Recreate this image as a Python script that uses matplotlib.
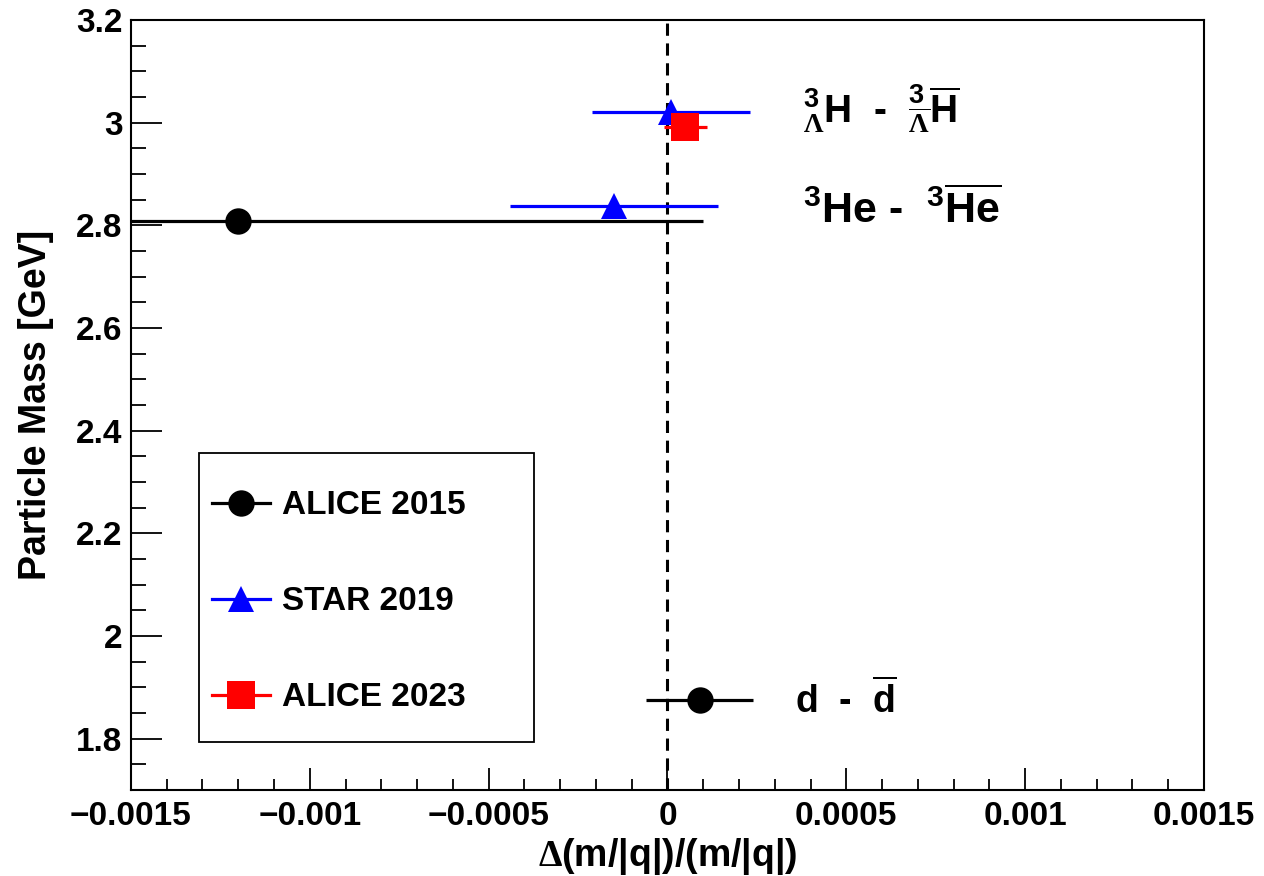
import matplotlib
matplotlib.use('Agg')
import matplotlib.pyplot as plt
from matplotlib.lines import Line2D
from matplotlib.patches import Rectangle
from matplotlib.ticker import FixedLocator, MultipleLocator, FuncFormatter

plt.rcParams['font.family'] = 'Liberation Sans'
plt.rcParams['font.weight'] = 'bold'
plt.rcParams['mathtext.fontset'] = 'custom'
plt.rcParams['mathtext.rm'] = 'Liberation Sans:bold'
plt.rcParams['mathtext.it'] = 'Liberation Sans:bold'
plt.rcParams['mathtext.bf'] = 'Liberation Sans:bold'
plt.rcParams['mathtext.sf'] = 'Liberation Serif'

# datos: diferencia relativa masa/carga (particula - antiparticula)
alice15_x = [0.00009, -0.0012]
alice15_xerr = [0.00015, 0.0013]
alice15_mass = [1.8756, 2.8084]

star19_x = [-0.00015, 0.00001]
star19_xerr = [0.00029, 0.00022]
star19_mass = [2.838, 3.021]

alice23_x = [0.00005]
alice23_xerr = [0.00006]
alice23_mass = [2.991]

labels = ['ALICE 2015', 'STAR 2019', 'ALICE 2023']
x_ticks = [-0.0015, -0.001, -0.0005, 0, 0.0005, 0.001, 0.0015]
y_ticks = [1.8, 2.0, 2.2, 2.4, 2.6, 2.8, 3.0, 3.2]

fig = plt.figure(figsize=(12.64, 8.76), dpi=100)
ax = fig.add_axes([0.1036, 0.0982, 0.8489, 0.879])

ax.axvline(0, color='black', lw=2.2, linestyle=(0, (4, 2.5)), zorder=1)

ax.errorbar(alice15_x, alice15_mass, xerr=alice15_xerr, fmt='o', color='black',
            ms=19, mew=0, elinewidth=2.3, capsize=0, zorder=3)
ax.errorbar(star19_x, star19_mass, xerr=star19_xerr, fmt='^', color='blue',
            ms=19, mew=0, elinewidth=2.3, capsize=0, zorder=4)
ax.errorbar(alice23_x, alice23_mass, xerr=alice23_xerr, fmt='s', color='red',
            ms=19.5, mew=0, elinewidth=2.3, capsize=0, zorder=5)

ax.set_xlim(-0.0015, 0.0015)
ax.set_ylim(1.7, 3.2)

ax.xaxis.set_major_locator(FixedLocator(x_ticks))
ax.xaxis.set_minor_locator(MultipleLocator(0.0001))
ax.yaxis.set_major_locator(FixedLocator(y_ticks))
ax.yaxis.set_minor_locator(MultipleLocator(0.05))
ax.xaxis.set_major_formatter(FuncFormatter(lambda v, p: ('%g' % round(v, 6)).replace('-', '\u2212')))
ax.yaxis.set_major_formatter(FuncFormatter(lambda v, p: '%g' % round(v, 3)))

ax.tick_params(axis='both', which='both', direction='in', top=False, right=False, width=1.3, labelsize=24)
ax.tick_params(axis='x', which='major', length=15.6, pad=8)
ax.tick_params(axis='x', which='minor', length=7.7)
ax.tick_params(axis='y', which='major', length=22, pad=6)
ax.tick_params(axis='y', which='minor', length=11)
for s in ax.spines.values():
    s.set_linewidth(1.5)

ax.set_xlabel(r'$\mathsf{Δ}$(m/|q|)/(m/|q|)', fontsize=27, fontweight='bold', labelpad=3)
ax.set_ylabel('Particle Mass [GeV]', fontsize=27, fontweight='bold', labelpad=16)

# etiquetas de las particulas
ax.text(0.626, 0.8675, r'$^{3}_{\mathsf{\Lambda}}$H  -  $^{3}_{\overline{\mathsf{\Lambda}}}\overline{\mathrm{H}}$',
        transform=ax.transAxes, fontsize=28, ha='left', va='baseline')
ax.text(0.626, 0.7364, r'$^{3}$He -  $^{3}\overline{\mathrm{He}}$',
        transform=ax.transAxes, fontsize=31, ha='left', va='baseline')
ax.text(0.619, 0.100, r'd  -  $\overline{\mathrm{d}}$',
        transform=ax.transAxes, fontsize=27, ha='left', va='baseline')

# caja de la leyenda
ax.add_patch(Rectangle((0.0634, 0.0623), 0.3122, 0.3754, transform=ax.transAxes,
                       facecolor='white', edgecolor='black', lw=1.3, zorder=6))
handles = [
    Line2D([], [], color='black', marker='o', ms=19, mew=0, lw=2.3),
    Line2D([], [], color='blue', marker='^', ms=19, mew=0, lw=2.3),
    Line2D([], [], color='red', marker='s', ms=19.5, mew=0, lw=2.3),
]
leg = ax.legend(handles, labels, loc='center left', bbox_to_anchor=(0.0755, 0.2442),
                fontsize=24, frameon=False, handlelength=1.75, handletextpad=0.35,
                borderpad=0, labelspacing=1.95, borderaxespad=0)
leg.set_zorder(7)
for t in leg.get_texts():
    t.set_fontweight('bold')

plt.savefig('out.png', dpi=100, facecolor='white')
plt.close()
